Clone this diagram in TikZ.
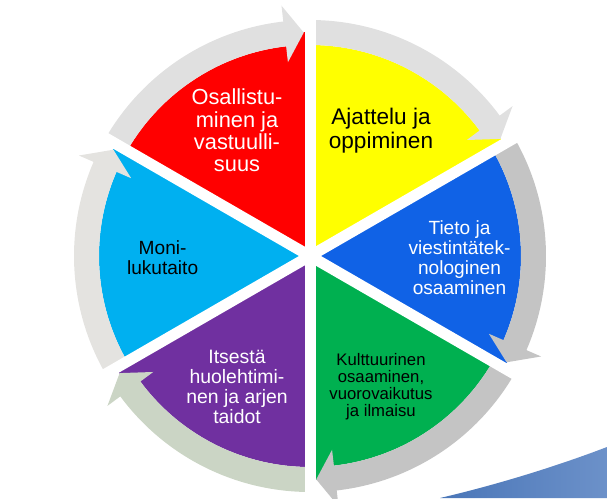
\documentclass[tikz,border=0pt]{standalone}
\usepackage{fontspec}
\setmainfont{Liberation Sans}
\definecolor{cRed}{HTML}{FF0000}
\definecolor{cYellow}{HTML}{FFFF00}
\definecolor{cBlue}{HTML}{1062E6}
\definecolor{cGreen}{HTML}{00B050}
\definecolor{cPurple}{HTML}{7030A0}
\definecolor{cLight}{HTML}{00B0F0}
\definecolor{bandA}{HTML}{E0E0E0}
\definecolor{bandB}{HTML}{C4C4C4}
\definecolor{bandC}{HTML}{CBD5C5}
\definecolor{bandD}{HTML}{E4E3E0}
\definecolor{swL}{HTML}{4A76B8}
\definecolor{swR}{HTML}{6C91C9}
\begin{document}
\begin{tikzpicture}[x=1pt,y=1pt,
  lbl/.style={align=center, inner sep=0pt}]
\useasboundingbox (0,0) rectangle (607,498);
% background swoosh
\shade[left color=swL, right color=swR] (440,0) .. controls (500,14) and (560,33) .. (607,51) -- (607,0) -- cycle;
\begin{scope}[shift={(310,242)}]
  % sectors
  \foreach \as/\ae/\sc in {150/90/cRed, 90/30/cYellow, 30/-30/cBlue, -30/-90/cGreen, -90/-150/cPurple, 210/150/cLight}{
    \pgfmathsetmacro\base{\ae+6.5}
    \pgfmathsetmacro\tip{\ae+1.6}
    \fill[\sc] (0,0) -- (\as:211) arc[start angle=\as, end angle=\base, radius=211] -- (\tip:224) -- (\ae:224) -- cycle;
  }
  % arrow bands
  \foreach \as/\ae/\bc in {150/90/bandA, 90/30/bandA, 30/-30/bandB, -30/-90/bandB, -90/-150/bandC, 210/150/bandD}{
    \pgfmathsetmacro\base{\ae+6.5}
    \pgfmathsetmacro\tip{\ae+1.6}
    \fill[\bc] (\as:236) arc[start angle=\as, end angle=\base, radius=236] -- (\base:252) -- (\tip:223.5) -- (\base:195) -- (\base:211) arc[start angle=\base, end angle=\as, radius=211] -- cycle;
  }
  % white gaps
  \foreach \a in {90,30,-30,-90,-150,150}{
    \draw[white, line width=11] (0,0) -- (\a:262);
  }
\end{scope}
% labels
\node[lbl, text=white, font=\fontsize{21.8}{22.4}\selectfont] (tRed) at (237,367.5) {Osallistu-\\minen ja\\vastuulli-\\suus};
\node[lbl, text=black, font=\fontsize{22.6}{23.4}\selectfont] (tYellow) at (381,367.5) {Ajattelu ja\\oppiminen};
\node[lbl, text=white, font=\fontsize{19.1}{20}\selectfont] (tBlue) at (459.5,240.3) {Tieto ja\\viestintätek-\\nologinen\\osaaminen};
\node[lbl, text=black, font=\fontsize{19.1}{20}\selectfont] (tLight) at (162.6,240.3) {Moni-\\lukutaito};
\node[lbl, text=white, font=\fontsize{19.4}{20}\selectfont] (tPurple) at (237,111.5) {Itsestä\\huolehtimi-\\nen ja arjen\\taidot};
\node[lbl, text=black, font=\fontsize{16.7}{17.2}\selectfont] (tGreen) at (381,111.5) {Kulttuurinen\\osaaminen,\\vuorovaikutus\\ja ilmaisu};
\end{tikzpicture}
\end{document}
